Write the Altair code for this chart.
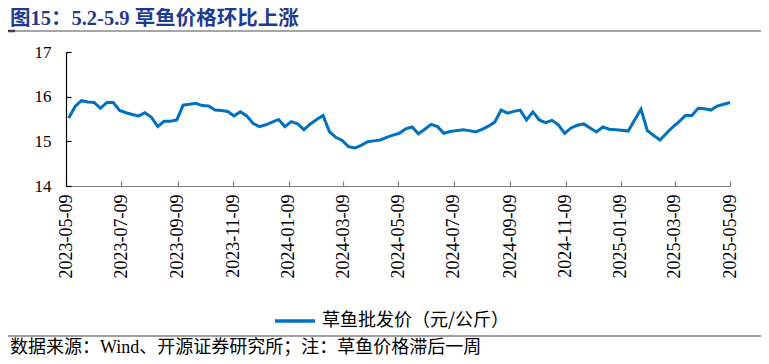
import altair as alt
import pandas as pd

title_text = "图15：5.2-5.9 草鱼价格环比上涨"
source_text = "数据来源：Wind、开源证券研究所；注：草鱼价格滞后一周"
series_name = "草鱼批发价（元/公斤）"

last_date = "2025-05-09"
prices = [
    15.52, 15.78, 15.91, 15.88, 15.87, 15.74, 15.87, 15.87, 15.69, 15.64,
    15.60, 15.57, 15.64, 15.54, 15.33, 15.45, 15.45, 15.48, 15.81, 15.83,
    15.85, 15.80, 15.79, 15.70, 15.69, 15.67, 15.57, 15.66, 15.57, 15.40,
    15.33, 15.37, 15.43, 15.49, 15.33, 15.44, 15.39, 15.26, 15.39, 15.49,
    15.58, 15.22, 15.09, 15.02, 14.88, 14.85, 14.91, 14.99, 15.01, 15.03,
    15.09, 15.14, 15.18, 15.28, 15.32, 15.17, 15.27, 15.38, 15.33, 15.18,
    15.22, 15.24, 15.26, 15.24, 15.21, 15.27, 15.34, 15.43, 15.70, 15.63,
    15.67, 15.70, 15.48, 15.66, 15.48, 15.42, 15.47, 15.37, 15.18, 15.30,
    15.36, 15.39, 15.30, 15.21, 15.32, 15.27, 15.26, 15.25, 15.23, 15.48,
    15.72, 15.24, 15.13, 15.03, 15.18, 15.32, 15.44, 15.58, 15.58, 15.74,
    15.73, 15.70, 15.79, 15.83, 15.87,
]
dates = pd.date_range(end=last_date, periods=len(prices), freq="7D").strftime("%Y-%m-%d").tolist()

tick_labels = [
    "2023-05-09", "2023-07-09", "2023-09-09", "2023-11-09", "2024-01-09",
    "2024-03-09", "2024-05-09", "2024-07-09", "2024-09-09", "2024-11-09",
    "2025-01-09", "2025-03-09", "2025-05-09",
]
y_ticks = [14, 15, 16, 17]


def dt(s):
    y, m, d = (int(v) for v in s.split("-"))
    return alt.DateTime(year=y, month=m, date=d, utc=True)


tick_values = [dt(s) for s in tick_labels]

df = pd.DataFrame({"date": dates, "price": prices, "series": series_name})

W, H = 664, 134
LINE = "#0070C0"
SERIF = "Liberation Serif, Noto Sans CJK SC"
CJK = "Noto Sans CJK SC"

xscale = alt.Scale(type="utc", domain=[dt(tick_labels[0]), dt(tick_labels[-1])])
yscale = alt.Scale(domain=[14, 17], nice=False, zero=False)

base = alt.Chart(df)

line = base.mark_line(strokeWidth=3).encode(
    x=alt.X("date:T", scale=xscale,
            axis=alt.Axis(orient="bottom", values=tick_values,
                          labelExpr="utcFormat(datum.value, '%Y-%m-%d')",
                          labelAngle=270, labelFont=SERIF, labelFontSize=18,
                          labelColor="black", labelPadding=8, ticks=False,
                          domainColor="#7f7f7f", domainWidth=1.2, grid=False,
                          title=None, labelOverlap=False)),
    y=alt.Y("price:Q", scale=yscale,
            axis=alt.Axis(orient="left", values=y_ticks, labelFont=SERIF,
                          labelFontSize=17, labelColor="black", labelPadding=15,
                          ticks=False, domainColor="black", domainWidth=1.2,
                          grid=False, title=None)),
    color=alt.Color("series:N", scale=alt.Scale(range=[LINE]),
                    legend=alt.Legend(orient="none", legendX=207, legendY=247,
                                      title=None, symbolType="stroke",
                                      symbolSize=1600, symbolStrokeWidth=3.5,
                                      labelFont=CJK, labelFontSize=18,
                                      labelLimit=0,
                                      labelColor="black", labelOffset=5)),
)

tick_layer = base.mark_line(opacity=0).encode(
    x=alt.X("date:T", scale=xscale,
            axis=alt.Axis(orient="top", offset=-H, values=tick_values,
                          labels=False, domain=False, ticks=True, tickSize=5,
                          tickColor="#7f7f7f", tickWidth=1.2, grid=False, title=None)),
    y=alt.Y("price:Q", scale=yscale,
            axis=alt.Axis(orient="right", offset=-W, values=y_ticks,
                          labels=False, domain=False, ticks=True, tickSize=5,
                          tickColor="black", tickWidth=1.2, grid=False, title=None)),
)

one = pd.DataFrame({"t": [0]})

title_mark = alt.Chart(pd.DataFrame({"t": [title_text]})).mark_text(
    align="left", baseline="middle", font=SERIF, fontSize=20.5,
    fontWeight="bold", color="#1F3A93",
).encode(text="t:N", x=alt.value(-56), y=alt.value(-33))

title_rule = alt.Chart(one).mark_rule(color="#a6a6a6", strokeWidth=2).encode(
    x=alt.value(-58), x2=alt.value(699), y=alt.value(-21))
title_rule_dark = alt.Chart(one).mark_rule(color="#404040", strokeWidth=2.5).encode(
    x=alt.value(-58), x2=alt.value(-51), y=alt.value(-21))

source_rule = alt.Chart(one).mark_rule(color="#808080", strokeWidth=1.5).encode(
    x=alt.value(-58), x2=alt.value(699), y=alt.value(284))
source_mark = alt.Chart(pd.DataFrame({"t": [source_text]})).mark_text(
    align="left", baseline="middle", font=SERIF, fontSize=18, color="black",
).encode(text="t:N", x=alt.value(-56), y=alt.value(296))

chart = alt.layer(
    line, tick_layer, title_rule, title_rule_dark, title_mark, source_rule, source_mark
).resolve_axis(x="independent", y="independent").properties(
    width=W, height=H,
    padding={"left": 58, "top": 44, "right": 31, "bottom": 170},
    autosize=alt.AutoSizeParams(type="none"),
).configure_view(stroke=None)

chart.save("out.html", embed_options={"renderer": "svg", "actions": False})
